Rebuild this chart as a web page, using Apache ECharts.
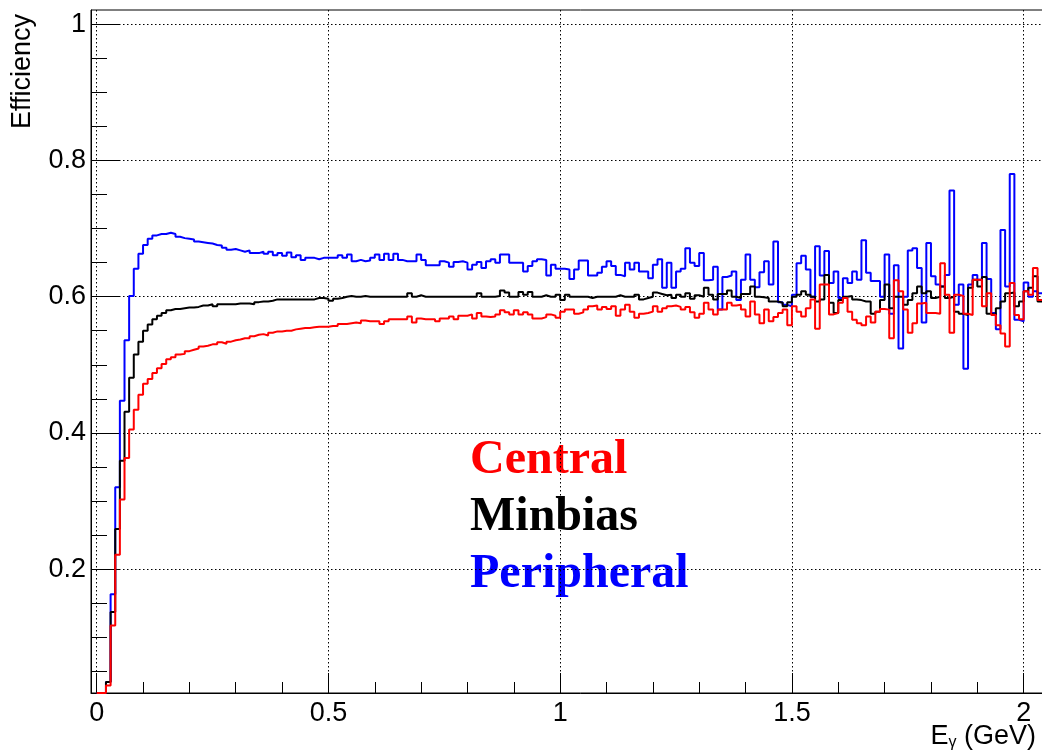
<!DOCTYPE html>
<html>
<head>
<meta charset="utf-8">
<script src="https://cdn.jsdelivr.net/npm/echarts@6/dist/echarts.min.js"></script>
<style>
html,body{margin:0;padding:0;overflow:hidden;background:#fff;width:1042px;height:754px}
#c{width:1100px;height:754px}
</style>
</head>
<body>
<div id="c"></div>
<script>
// ---- data (efficiency per 0.01 GeV bin, first bin starts at 0 GeV) ----
const binWidth = 0.01;
const firstEdge = 0;

const central = [
0,0,0.029,0.117,0.221,0.302,0.363,0.405,0.434,0.456,
0.472,0.479,0.488,0.495,0.501,0.508,0.511,0.515,0.516,0.520,
0.522,0.524,0.527,0.528,0.530,0.530,0.533,0.531,0.534,0.536,
0.537,0.539,0.539,0.542,0.544,0.545,0.543,0.547,0.549,0.549,
0.550,0.550,0.552,0.553,0.554,0.554,0.555,0.556,0.556,0.556,
0.557,0.557,0.560,0.560,0.561,0.562,0.561,0.565,0.564,0.564,
0.564,0.560,0.564,0.567,0.567,0.567,0.567,0.571,0.562,0.568,
0.567,0.567,0.567,0.564,0.568,0.568,0.571,0.567,0.572,0.572,
0.574,0.568,0.576,0.571,0.570,0.571,0.574,0.580,0.577,0.574,
0.580,0.574,0.577,0.574,0.568,0.568,0.570,0.574,0.572,0.569,
0.578,0.581,0.581,0.575,0.577,0.581,0.586,0.587,0.581,0.585,
0.582,0.586,0.572,0.581,0.588,0.578,0.569,0.575,0.576,0.578,
0.586,0.578,0.583,0.586,0.587,0.585,0.581,0.585,0.577,0.569,
0.575,0.591,0.581,0.574,0.581,0.581,0.591,0.587,0.588,0.581,
0.571,0.593,0.574,0.561,0.581,0.564,0.570,0.576,0.581,0.558,
0.586,0.578,0.571,0.583,0.596,0.553,0.618,0.618,0.574,0.576,
0.591,0.598,0.578,0.566,0.561,0.558,0.571,0.562,0.578,0.582,
0.581,0.539,0.624,0.608,0.581,0.547,0.561,0.590,0.591,0.576,
0.576,0.575,0.649,0.603,0.547,0.603,0.601,0.575,0.573,0.625,
0.625,0.586,0.605,0.573,0.558,0.546,0.527,0.620,0.573,0.567,
0.608,0.603,0.642,0.595
];

const minbias = [
0,0,0.034,0.137,0.259,0.359,0.431,0.481,0.515,0.534,
0.550,0.559,0.567,0.572,0.576,0.580,0.582,0.582,0.583,0.584,
0.584,0.585,0.587,0.587,0.589,0.586,0.589,0.589,0.589,0.589,
0.590,0.590,0.590,0.589,0.592,0.593,0.593,0.594,0.596,0.596,
0.596,0.596,0.596,0.596,0.596,0.596,0.596,0.598,0.598,0.597,
0.594,0.597,0.598,0.600,0.601,0.600,0.600,0.601,0.600,0.600,
0.600,0.600,0.600,0.600,0.600,0.600,0.600,0.605,0.600,0.602,
0.600,0.600,0.600,0.600,0.600,0.600,0.600,0.600,0.600,0.600,
0.600,0.600,0.605,0.600,0.600,0.600,0.601,0.609,0.606,0.600,
0.600,0.607,0.603,0.607,0.600,0.600,0.602,0.600,0.600,0.603,
0.595,0.603,0.600,0.600,0.600,0.600,0.598,0.600,0.600,0.600,
0.600,0.600,0.602,0.600,0.600,0.600,0.603,0.596,0.598,0.600,
0.606,0.604,0.602,0.603,0.598,0.603,0.600,0.605,0.597,0.602,
0.600,0.613,0.603,0.596,0.604,0.604,0.609,0.600,0.598,0.604,
0.604,0.615,0.600,0.599,0.598,0.593,0.593,0.591,0.586,0.592,
0.600,0.603,0.608,0.603,0.600,0.593,0.596,0.632,0.591,0.576,
0.595,0.600,0.601,0.596,0.595,0.593,0.593,0.575,0.578,0.595,
0.618,0.583,0.600,0.600,0.588,0.595,0.605,0.615,0.605,0.608,
0.598,0.600,0.615,0.598,0.600,0.578,0.575,0.573,0.613,0.625,
0.615,0.629,0.575,0.573,0.583,0.593,0.605,0.606,0.586,0.593,
0.608,0.613,0.630,0.593
];

const peripheral = [
0,0,0.034,0.163,0.320,0.447,0.536,0.601,0.641,0.663,
0.676,0.685,0.690,0.692,0.692,0.694,0.692,0.688,0.686,0.685,
0.684,0.681,0.680,0.679,0.678,0.676,0.675,0.672,0.669,0.670,
0.668,0.666,0.668,0.664,0.664,0.666,0.663,0.666,0.661,0.664,
0.660,0.665,0.658,0.661,0.654,0.657,0.657,0.655,0.657,0.657,
0.657,0.657,0.661,0.657,0.662,0.652,0.654,0.652,0.653,0.657,
0.662,0.654,0.663,0.654,0.663,0.654,0.652,0.652,0.652,0.662,
0.654,0.646,0.646,0.646,0.652,0.650,0.644,0.651,0.652,0.650,
0.640,0.647,0.651,0.642,0.652,0.655,0.650,0.662,0.662,0.650,
0.650,0.650,0.637,0.645,0.652,0.655,0.654,0.631,0.647,0.641,
0.641,0.640,0.626,0.640,0.653,0.653,0.631,0.631,0.635,0.644,
0.652,0.645,0.632,0.630,0.650,0.640,0.650,0.637,0.637,0.627,
0.647,0.655,0.613,0.650,0.613,0.637,0.641,0.671,0.650,0.645,
0.664,0.624,0.625,0.644,0.581,0.629,0.631,0.637,0.595,0.625,
0.662,0.625,0.614,0.636,0.652,0.618,0.681,0.592,0.588,0.586,
0.603,0.649,0.660,0.640,0.600,0.674,0.631,0.667,0.620,0.637,
0.598,0.627,0.620,0.637,0.625,0.683,0.635,0.623,0.623,0.600,
0.662,0.575,0.646,0.524,0.600,0.668,0.671,0.642,0.562,0.679,
0.630,0.618,0.615,0.632,0.756,0.588,0.618,0.494,0.618,0.632,
0.625,0.679,0.626,0.576,0.552,0.698,0.615,0.780,0.566,0.564,
0.621,0.600,0.608,0.605
];

const xMajorTicks = [0, 0.5, 1, 1.5, 2];
const yMajorTicks = [0.2, 0.4, 0.6, 0.8, 1];
const legendLabels = ['Central', 'Minbias', 'Peripheral'];
const xTitle = 'E{sub|γ} (GeV)';
const yTitle = 'Efficiency';

// ---- axis ranges ----
const xMin = -0.0123, xMax = 2.1;
const yMin = 0.018, yMax = 1.021;

const xMinorTicks = [];
for (let k = 1; k <= 21; k++) if (k % 5 !== 0) xMinorTicks.push(+(k / 10).toFixed(2));
const yMinorTicks = [];
for (let k = 1; k <= 20; k++) if (k % 4 !== 0) yMinorTicks.push(+(k * 0.05).toFixed(2));

function steps(vals) {
  const d = vals.map((v, i) => [+(firstEdge + i * binWidth).toFixed(4), Math.max(v, yMin)]);
  d.push([+(firstEdge + vals.length * binWidth).toFixed(4), Math.max(vals[vals.length - 1], yMin)]);
  return d;
}

const sansFont = '"Liberation Sans", Arial, Helvetica, sans-serif';
const serifFont = '"Liberation Serif", "Times New Roman", Times, serif';
const dotted = { color: '#000', width: 1, type: [1.5, 2.5] };

const chart = echarts.init(document.getElementById('c'), null, { renderer: 'canvas' });

function lineSeries(name, vals, color) {
  return {
    name, type: 'line', step: 'end', data: steps(vals),
    showSymbol: false, symbol: 'none', clip: true,
    lineStyle: { color, width: 2 }, itemStyle: { color },
    emphasis: { disabled: true }, animation: false
  };
}

chart.setOption({
  animation: false,
  backgroundColor: '#fff',
  grid: {
    left: 91, top: 10, right: 30, bottom: 61,
    show: true, borderColor: '#000', borderWidth: 1,
    backgroundColor: 'transparent', containLabel: false, outerBoundsMode: 'none'
  },
  xAxis: [
    {
      type: 'value', position: 'bottom', min: xMin, max: xMax,
      axisLine: { onZero: false, lineStyle: { color: '#000', width: 1 } },
      axisTick: { inside: true, length: 20, customValues: xMajorTicks, lineStyle: { color: '#000', width: 1 } },
      axisLabel: { customValues: xMajorTicks, color: '#000', fontSize: 27, fontFamily: sansFont, margin: 7,
                   formatter: v => String(v) },
      splitLine: { show: true, lineStyle: dotted },
      minorTick: { show: false }
    },
    {
      type: 'value', position: 'bottom', min: xMin, max: xMax,
      axisLine: { show: false, onZero: false },
      axisTick: { inside: true, length: 11, customValues: xMinorTicks, lineStyle: { color: '#000', width: 1 } },
      axisLabel: { show: false },
      splitLine: { show: false }
    }
  ],
  yAxis: [
    {
      type: 'value', position: 'left', min: yMin, max: yMax,
      axisLine: { show: true, onZero: false, lineStyle: { color: '#000', width: 1 } },
      axisTick: { show: true, inside: true, length: 29, customValues: yMajorTicks, lineStyle: { color: '#000', width: 1 } },
      axisLabel: { customValues: yMajorTicks, color: '#000', fontSize: 27, fontFamily: sansFont, margin: 5,
                   formatter: v => String(v) },
      splitLine: { show: true, lineStyle: dotted }
    },
    {
      type: 'value', position: 'left', min: yMin, max: yMax,
      axisLine: { show: false, onZero: false },
      axisTick: { show: true, inside: true, length: 16, customValues: yMinorTicks, lineStyle: { color: '#000', width: 1 } },
      axisLabel: { show: false },
      splitLine: { show: false }
    }
  ],
  series: [
    lineSeries('Peripheral', peripheral, '#0000ff'),
    lineSeries('Minbias', minbias, '#000000'),
    lineSeries('Central', central, '#ff0000')
  ],
  graphic: [
    { type: 'text', x: 23, y: 14, rotation: Math.PI / 2,
      style: { text: yTitle, fill: '#000', font: '27px ' + sansFont, align: 'right', verticalAlign: 'middle' } },
    { type: 'text', x: 1036, y: 737,
      style: { text: xTitle, fill: '#000', font: '27px ' + sansFont, align: 'right', verticalAlign: 'middle',
               rich: { sub: { fontSize: 16, fontFamily: sansFont, fill: '#000', padding: [12, 0, 0, 0] } } } },
    { type: 'text', x: 470, y: 461,
      style: { text: legendLabels[0], fill: '#ff0000', font: 'bold 48px ' + serifFont, align: 'left', verticalAlign: 'middle' } },
    { type: 'text', x: 470, y: 518,
      style: { text: legendLabels[1], fill: '#000000', font: 'bold 48px ' + serifFont, align: 'left', verticalAlign: 'middle' } },
    { type: 'text', x: 470, y: 575,
      style: { text: legendLabels[2], fill: '#0000ff', font: 'bold 48px ' + serifFont, align: 'left', verticalAlign: 'middle' } }
  ]
});
</script>
</body>
</html>
